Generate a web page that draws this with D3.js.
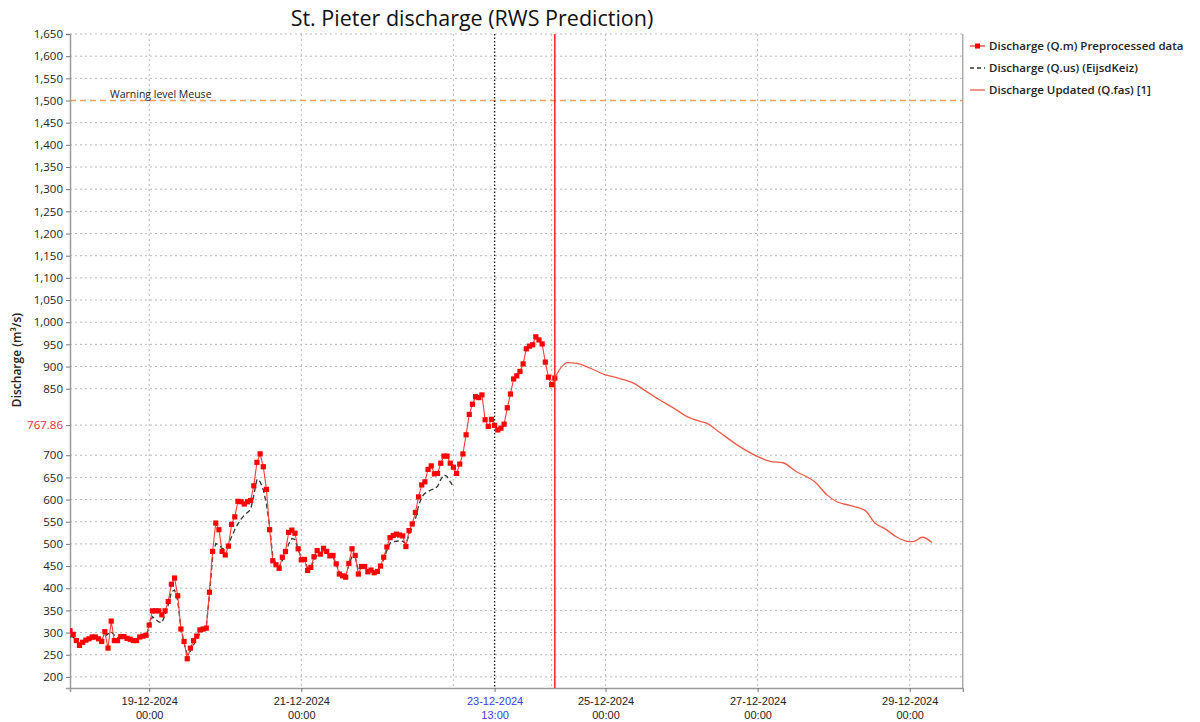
<!DOCTYPE html>
<html>
<head>
<meta charset="utf-8">
<script src="https://cdn.jsdelivr.net/npm/d3@7"></script>
<style>
  html, body { margin: 0; padding: 0; background: #fff; }
  svg { display: block; font-family: "Open Sans", "Noto Sans", sans-serif; }
</style>
</head>
<body>
<svg id="chart" width="1200" height="722"></svg>
<script>
// ---------------- DATA ----------------
const chartTitle = "St. Pieter discharge (RWS Prediction)";
const yAxisTitle = "Discharge (m³/s)";
const seriesNames = ["Discharge (Q.m) Preprocessed data", "Discharge (Q.us) (EijsdKeiz)", "Discharge Updated (Q.fas) [1]"];

// hourly observations starting 17-12-2024 23:00
const obsStart = [2024, 11, 17, 23];
const obsValues = [
  304, 296, 282, 271, 278, 283, 286, 290, 290, 286, 280, 302, 265, 326, 282, 282,
  291, 291, 287, 285, 282, 282, 290, 292, 294, 317, 349, 349, 349, 340, 349, 370,
  409, 423, 383, 308, 280, 241, 265, 282, 292, 306, 308, 310, 391, 483, 547, 532,
  483, 475, 495, 544, 561, 596, 595, 590, 595, 598, 631, 684, 703, 674, 623, 532,
  462, 453, 445, 470, 483, 526, 531, 524, 489, 464, 465, 440, 447, 471, 485, 477,
  490, 483, 473, 474, 455, 432, 428, 425, 456, 489, 474, 432, 449, 449, 437, 441,
  435, 438, 450, 470, 493, 514, 519, 522, 520, 518, 494, 530, 545, 571, 606, 633,
  640, 668, 676, 658, 659, 682, 698, 698, 682, 673, 659, 680, 703, 746, 792, 815,
  832, 830, 836, 780, 765, 781, 767, 757, 761, 770, 807, 838, 872, 879, 889, 906,
  940, 946, 949, 967, 960, 951, 910, 876, 859, 874
];

// hourly upstream (EijsdKeiz) values starting 17-12-2024 23:00
const usValues = [
  291, 290, 282, 276, 278, 280, 283, 286, 287, 286, 284, 292, 297, 302, 294, 288,
  289, 290, 287, 285, 283, 283, 287, 290, 293, 312, 336, 330, 324, 322, 340, 362,
  392, 396, 372, 310, 276, 250, 258, 272, 286, 298, 304, 312, 385, 470, 501, 498,
  490, 488, 500, 516, 532, 545, 556, 565, 571, 577, 610, 646, 640, 622, 590, 540,
  470, 455, 448, 462, 475, 500, 512, 510, 488, 468, 462, 445, 448, 462, 475, 476,
  484, 482, 474, 470, 455, 436, 430, 428, 452, 472, 470, 440, 448, 447, 440, 440,
  436, 438, 448, 465, 485, 502, 505, 506, 507, 506, 500, 520, 538, 556, 586, 606,
  614, 618, 622, 624, 630, 645, 656, 652, 640, 629
];

// forecast: hours after 18-12-2024 00:00 and values
const fasHours  = [152, 154, 156, 159, 162, 168, 172, 177, 180, 185, 190, 193, 198, 200, 203, 210, 216, 220, 224, 228, 234, 238, 241, 245, 250, 253, 256, 260, 264, 265, 268, 271];
const fasValues = [874, 898, 909, 907, 900, 881, 874, 862, 848, 825, 804, 790, 776, 772, 757, 721, 697, 686, 683, 664, 640, 610, 595, 587, 575, 547, 535, 515, 505, 505, 515, 503];

const yTickValues = [200, 250, 300, 350, 400, 450, 500, 550, 600, 650, 700, 767.86, 850, 900, 950, 1000, 1050, 1100, 1150, 1200, 1250, 1300, 1350, 1400, 1450, 1500, 1550, 1600, 1650];
const highlightTick = 767.86;
const warningLevel = 1500;
const warningLabel = "Warning level Meuse";
const xTickDates = [[2024, 11, 19, 0], [2024, 11, 21, 0], [2024, 11, 23, 13], [2024, 11, 25, 0], [2024, 11, 27, 0], [2024, 11, 29, 0]];
const xGridDates = [[2024, 11, 19, 0], [2024, 11, 21, 0], [2024, 11, 23, 0], [2024, 11, 24, 7], [2024, 11, 25, 0], [2024, 11, 27, 0], [2024, 11, 29, 0]];
const systemTime = [2024, 11, 23, 13];   // black dotted line
const forecastT0 = [2024, 11, 24, 8];    // red vertical line
const xDomain = [[2024, 11, 17, 23, 0], [2024, 11, 29, 16, 45]];
const yDomain = [175, 1650];

// ---------------- DRAW ----------------
const mk = a => new Date(a[0], a[1], a[2], a[3], a[4] || 0);
const base = new Date(2024, 11, 18, 0);
const addH = (d, h) => new Date(d.getTime() + h * 3600e3);

const svg = d3.select("#chart");
const pL = 70, pR = 962.8, pT = 34, pB = 688;

const x = d3.scaleTime().domain(xDomain.map(mk)).range([pL, pR]);
const y = d3.scaleLinear().domain(yDomain).range([pB, pT]);

const obs = obsValues.map((v, i) => ({ t: addH(mk(obsStart), i), v }));
const us = usValues.map((v, i) => ({ t: addH(mk(obsStart), i), v }));
const fas = fasHours.map((h, i) => ({ t: addH(base, h), v: fasValues[i] }));

svg.append("defs").append("clipPath").attr("id", "clip")
  .append("rect").attr("x", pL).attr("y", pT - 1).attr("width", pR - pL).attr("height", pB - pT + 1);

// title
svg.append("text").attr("x", 472).attr("y", 26).attr("text-anchor", "middle")
  .attr("font-size", 21.5).attr("fill", "#111").text(chartTitle);

// horizontal grid
svg.append("g").selectAll("line").data(yTickValues.filter(v => v !== warningLevel)).join("line")
  .attr("x1", pL).attr("x2", pR).attr("y1", d => y(d)).attr("y2", d => y(d))
  .attr("stroke", "#b8b8b8").attr("stroke-width", 1).attr("stroke-dasharray", "2,3");

// vertical grid
svg.append("g").selectAll("line").data(xGridDates.map(mk)).join("line")
  .attr("x1", d => x(d)).attr("x2", d => x(d)).attr("y1", pT).attr("y2", pB)
  .attr("stroke", "#b8b8b8").attr("stroke-width", 1).attr("stroke-dasharray", "2,3");

// warning level
svg.append("line").attr("x1", pL).attr("x2", pR).attr("y1", y(warningLevel)).attr("y2", y(warningLevel))
  .attr("stroke", "#f0a060").attr("stroke-width", 1.5).attr("stroke-dasharray", "6,4");
svg.append("text").attr("x", 110).attr("y", y(warningLevel) - 3).attr("font-size", 10.5).attr("fill", "#222")
  .text(warningLabel);

// system time line
svg.append("line").attr("x1", x(mk(systemTime))).attr("x2", x(mk(systemTime))).attr("y1", pT).attr("y2", pB)
  .attr("stroke", "#111").attr("stroke-width", 1.3).attr("stroke-dasharray", "1.5,2");

// axes
const yAxis = d3.axisLeft(y).tickValues(yTickValues).tickSize(4).tickPadding(3)
  .tickFormat(d => d === highlightTick ? "767.86" : d3.format(",")(d));
const gy = svg.append("g").attr("transform", `translate(${pL},0)`).call(yAxis);
gy.select(".domain").attr("stroke", "#9a9a9a").attr("stroke-width", 1.5);
gy.selectAll(".tick line").attr("stroke", "#777");
gy.selectAll(".tick text").attr("font-size", 11.5).attr("fill", d => d === highlightTick ? "#e8283c" : "#222")
  .attr("font-family", "'Open Sans', sans-serif");

const xAxis = d3.axisBottom(x).tickValues(xTickDates.map(mk)).tickSize(4).tickFormat("");
const gx = svg.append("g").attr("transform", `translate(0,${pB})`).call(xAxis);
gx.select(".domain").attr("stroke", "#9a9a9a").attr("stroke-width", 1.5);
gx.selectAll(".tick line").attr("stroke", "#777");
const fmtD = d3.timeFormat("%d-%m-%Y"), fmtT = d3.timeFormat("%H:%M");
gx.selectAll(".tick").each(function (d) {
  const g = d3.select(this);
  const col = (d.getHours() === 13) ? "#3a3ae8" : "#222";
  g.append("text").attr("y", 17).attr("text-anchor", "middle").attr("font-size", 11).attr("fill", col).text(fmtD(d));
  g.append("text").attr("y", 30.5).attr("text-anchor", "middle").attr("font-size", 11).attr("fill", col).text(fmtT(d));
});

// right border
svg.append("line").attr("x1", pR).attr("x2", pR).attr("y1", pT).attr("y2", pB)
  .attr("stroke", "#9a9a9a").attr("stroke-width", 1.2);

// y axis title
svg.append("text").attr("transform", `translate(21,360) rotate(-90)`)
  .attr("text-anchor", "middle").attr("font-size", 12).attr("font-weight", 600).attr("fill", "#222")
  .text(yAxisTitle);

const plot = svg.append("g").attr("clip-path", "url(#clip)");

// upstream dashed
plot.append("path").datum(us)
  .attr("d", d3.line().x(d => x(d.t)).y(d => y(d.v)))
  .attr("fill", "none").attr("stroke", "#2c3a2c").attr("stroke-width", 1.3).attr("stroke-dasharray", "5,3");

// observations
plot.append("path").datum(obs)
  .attr("d", d3.line().x(d => x(d.t)).y(d => y(d.v)))
  .attr("fill", "none").attr("stroke", "#ff3a3a").attr("stroke-width", 1.1);
plot.append("g").selectAll("rect").data(obs).join("rect")
  .attr("x", d => x(d.t) - 2.6).attr("y", d => y(d.v) - 2.6).attr("width", 5.2).attr("height", 5.2)
  .attr("fill", "#ff0000");

// forecast
plot.append("path").datum(fas)
  .attr("d", d3.line().curve(d3.curveMonotoneX).x(d => x(d.t)).y(d => y(d.v)))
  .attr("fill", "none").attr("stroke", "#ee5a48").attr("stroke-width", 1.3);

// forecast T0 red line
svg.append("line").attr("x1", x(mk(forecastT0))).attr("x2", x(mk(forecastT0))).attr("y1", pT).attr("y2", pB)
  .attr("stroke", "#ff2a2a").attr("stroke-width", 1.6);

// legend
const lg = svg.append("g").attr("transform", "translate(970,46)");
seriesNames.forEach((name, i) => {
  const g = lg.append("g").attr("transform", `translate(0,${i * 22})`);
  if (i === 0) {
    g.append("line").attr("x1", 0).attr("x2", 15).attr("stroke", "#ff3a3a").attr("stroke-width", 1.3);
    g.append("rect").attr("x", 5).attr("y", -2.5).attr("width", 5).attr("height", 5).attr("fill", "#ff0000");
  } else if (i === 1) {
    g.append("line").attr("x1", 0).attr("x2", 15).attr("stroke", "#2c3a2c").attr("stroke-width", 1.3).attr("stroke-dasharray", "4,3");
  } else {
    g.append("line").attr("x1", 0).attr("x2", 15).attr("stroke", "#ee5a48").attr("stroke-width", 1.3);
  }
  g.append("text").attr("x", 19).attr("y", 4).attr("font-size", 11.5).attr("font-weight", 600).attr("fill", "#222").text(name);
});
</script>
</body>
</html>
